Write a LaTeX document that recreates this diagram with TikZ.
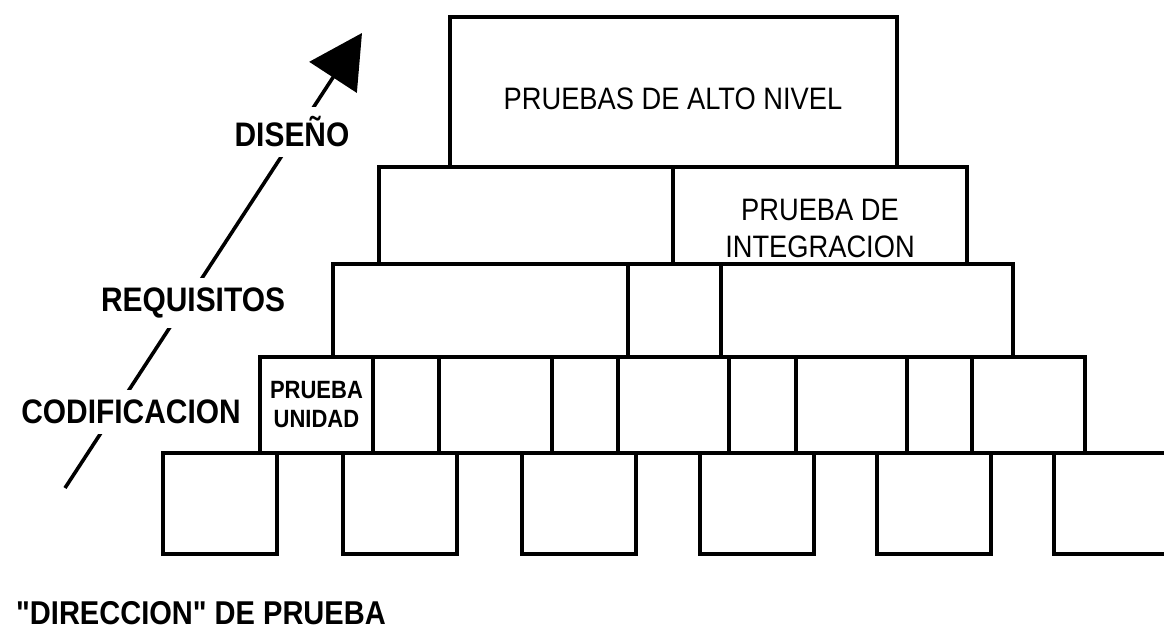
\documentclass[tikz,border=0pt]{standalone}
\usepackage{fontspec}
\setmainfont{Liberation Sans}
\newfontfamily\pyrfont[FakeStretch=0.88]{Liberation Sans}
\usepackage{xcolor}
\usetikzlibrary{arrows.meta}
\definecolor{boxline}{HTML}{000000}

\begin{document}
\begin{tikzpicture}[
  x=1pt, y=-1pt,
  cell/.style={draw=boxline, line width=3.8pt, inner sep=0pt},
  boxlbl/.style={inner sep=0pt, align=center, font=\pyrfont\fontsize{31}{37}\selectfont},
  unitlbl/.style={inner sep=0pt, align=center, font=\pyrfont\bfseries\fontsize{25}{29}\selectfont},
  sidelbl/.style={fill=white, inner xsep=1pt, inner ysep=10pt, font=\pyrfont\bfseries\fontsize{34}{40}\selectfont},
  dirarrow/.style={line width=3.6pt, boxline, -{Triangle[length=53pt, width=56pt]}}]
\path[fill=white, use as bounding box] (0,0) rectangle (1164,642);

% piramide de pruebas
\node[cell, minimum width=447pt, minimum height=150pt] (alto) at (673.5,92) {};

\foreach \xa/\xb [count=\i] in {379/673,673/967}
 {
  \pgfmathsetmacro\w{\xb-\xa}
  \node[cell, minimum width=\w pt, minimum height=97pt] (integ\i) at ({(\xa+\xb)/2},215.5) {};
 }

\foreach \xa/\xb [count=\i] in {333/628,628/721,721/1013}
 {
  \pgfmathsetmacro\w{\xb-\xa}
  \node[cell, minimum width=\w pt, minimum height=93pt] (mod\i) at ({(\xa+\xb)/2},310.5) {};
 }

\foreach \xa/\xb [count=\i] in {260/373,373/439,439/552,552/618,618/729,729/796,796/907,907/972,972/1085}
 {
  \pgfmathsetmacro\w{\xb-\xa}
  \node[cell, minimum width=\w pt, minimum height=96pt] (unid\i) at ({(\xa+\xb)/2},405) {};
 }

\foreach \xa [count=\i] in {163,343,522,700,877,1054}
  \node[cell, minimum width=114pt, minimum height=101pt] (cod\i) at (\xa+57,503.5) {};

\node[boxlbl] (altolbl) at (673,99) {PRUEBAS DE ALTO NIVEL};
\node[boxlbl] (integlbl) at (820,228) {PRUEBA DE\\INTEGRACION};
\node[unitlbl] (unidlbl) at (unid1) {PRUEBA\\UNIDAD};

% direccion de prueba
\coordinate (dirbase) at (65,488);
\coordinate (dirtip) at (362,33);
\draw[dirarrow] (dirbase) -- (dirtip);

\node[sidelbl] (diseno) at (292,132) {DISEÑO};
\node[sidelbl] (requisitos) at (193,303) {REQUISITOS};
\node[sidelbl] (codificacion) at (131,412) {CODIFICACION};

\node[inner sep=0pt, font=\pyrfont\bfseries\fontsize{33}{39}\selectfont] (direccion) at (201,613) {\symbol{34}DIRECCION\symbol{34} DE PRUEBA};
\end{tikzpicture}
\end{document}
